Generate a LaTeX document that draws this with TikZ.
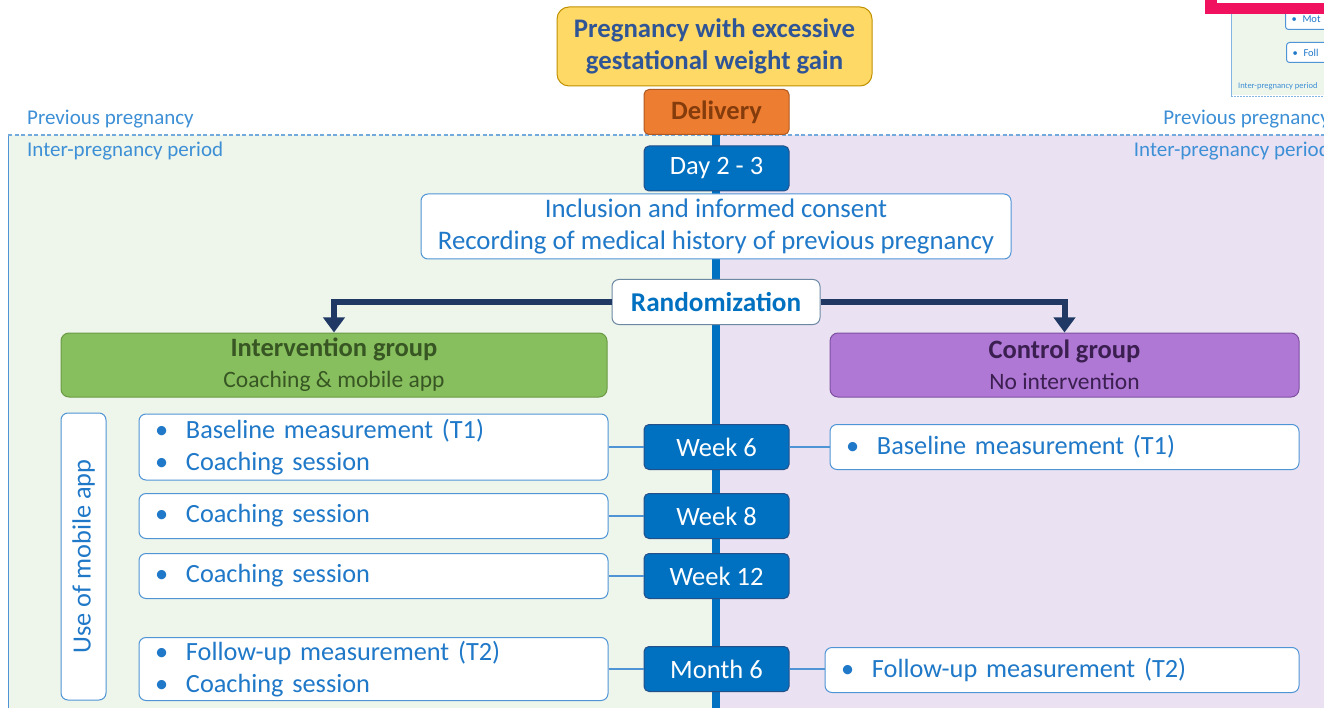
\documentclass[tikz,border=0pt]{standalone}
\usepackage{fontspec}
\setmainfont{Carlito}
\usetikzlibrary{arrows.meta,calc}
\definecolor{tblue}{HTML}{1F78C8}
\definecolor{lblue}{HTML}{3D8FD6}
\definecolor{wkblue}{HTML}{0070C0}
\definecolor{wkborder}{HTML}{24508A}
\definecolor{bborder}{HTML}{4F95D6}
\definecolor{bggreen}{HTML}{EEF5EB}
\definecolor{bgpurple}{HTML}{EAE2F2}
\definecolor{navy}{HTML}{1F3864}
\definecolor{goldfill}{HTML}{FFD966}
\definecolor{goldborder}{HTML}{BF9000}
\definecolor{pregtext}{HTML}{2F5597}
\definecolor{orfill}{HTML}{ED7D31}
\definecolor{orborder}{HTML}{AE5A21}
\definecolor{ortext}{HTML}{843C0C}
\definecolor{grfill}{HTML}{88BF5E}
\definecolor{grborder}{HTML}{6A9A44}
\definecolor{grtext}{HTML}{375623}
\definecolor{pufill}{HTML}{AF78D5}
\definecolor{puborder}{HTML}{7E4FA0}
\definecolor{putext}{HTML}{3B1F50}
\definecolor{pink}{HTML}{F0125E}
\tikzset{
  x=1pt, y=-1pt,
  wk/.style={draw=wkborder, fill=wkblue, rounded corners=5pt, line width=1pt,
    minimum width=145pt, minimum height=45pt, inner sep=0pt, text=white,
    font=\fontsize{26.5}{30}\selectfont},
  wbox/.style={draw=bborder, fill=white, rounded corners=7pt, line width=1pt,
    inner sep=0pt, text=tblue, font=\fontsize{26.3}{32}\selectfont},
  lbox/.style={wbox, minimum width=469pt, text width=439pt, align=left, inner xsep=15pt},
  conn/.style={draw=bborder, line width=1.2pt},
  garrow/.style={draw=navy, line width=6pt, -{Triangle[width=21pt,length=15pt]}},
  period/.style={text=lblue, font=\fontsize{21}{24}\selectfont, inner sep=0pt},
}
\newcommand{\bul}{\makebox[32pt][l]{\hspace{1pt}•}}
\begin{document}
\begin{tikzpicture}
\useasboundingbox (0,0) rectangle (1324,708);
\clip (0,0) rectangle (1324,708);
\fill[white] (0,0) rectangle (1324,708);
% background regions
\fill[bggreen] (8,135) rectangle (716,708);
\fill[bgpurple] (716,135) rectangle (1324,708);
\draw[bborder, line width=1pt] (8,135) -- (8,708);
\draw[bborder!80, line width=1.2pt, dash pattern=on 4pt off 2.5pt] (8,135) -- (1324,135);
% timeline
\draw[wkblue, line width=8pt] (716,130) -- (716,708);
% period labels
\node[period, anchor=west] (pp1) at (27,119) {Previous pregnancy};
\node[period, anchor=west] (ip1) at (27,151) {Inter-pregnancy period};
\node[period, anchor=east] (pp2) at (1330,119) {Previous pregnancy};
\node[period, anchor=east] (ip2) at (1330,151) {Inter-pregnancy period};
% corner artifact
\fill[bggreen] (1231,14) rectangle (1324,95);
\draw[bborder!70, line width=0.8pt] (1231,14) -- (1231,97);
\draw[bborder!70, line width=0.6pt, dash pattern=on 2pt off 1pt] (1231,96) -- (1324,96);
\node[wbox, rounded corners=3pt, minimum width=50pt, minimum height=20pt, anchor=north west,
  font=\fontsize{10.5}{12}\selectfont, text width=44pt, align=left, inner xsep=3pt] (am) at (1285,9) {\makebox[14pt][l]{\hspace{3pt}•}Mot};
\node[wbox, rounded corners=3pt, minimum width=50pt, minimum height=20pt, anchor=north west,
  font=\fontsize{10.5}{12}\selectfont, text width=44pt, align=left, inner xsep=3pt] (af) at (1286,42) {\makebox[14pt][l]{\hspace{3pt}•}Foll};
\node[period, anchor=west, font=\fontsize{8.5}{9}\selectfont] (ai) at (1238,86) {Inter-pregnancy period};
\fill[pink] (1205,0) rectangle (1324,14);
\fill[white] (1217,0) rectangle (1324,3);
% top boxes
\node[draw=goldborder, fill=goldfill, rounded corners=12pt, line width=1pt,
  minimum width=315pt, minimum height=79pt, inner sep=0pt, align=center,
  text=pregtext, font=\bfseries\fontsize{26.8}{32}\selectfont] (preg) at (714.5,46.5)
  {Pregnancy with excessive\\gestational weight gain};
\node[draw=orborder, fill=orfill, rounded corners=5pt, line width=1pt,
  minimum width=145pt, minimum height=45pt, inner sep=0pt,
  text=ortext, font=\bfseries\fontsize{26.5}{30}\selectfont] (deliv) at (716.5,112) {Delivery};
\node[wk] (day) at (716.5,168.5) {Day 2 - 3};
\node[wbox, minimum width=590pt, minimum height=65pt, align=center,
  font=\fontsize{26.8}{32}\selectfont] (incl) at (716,226.5)
  {Inclusion and informed consent\\Recording of medical history of previous pregnancy};
\node[draw=gray!60!bborder, fill=white, rounded corners=7pt, line width=1pt,
  minimum width=208pt, minimum height=45pt, inner sep=0pt, text=wkblue,
  font=\bfseries\fontsize{27.2}{30}\selectfont] (rand) at (716,302) {Randomization};
% groups
\node[draw=grborder, fill=grfill, rounded corners=8pt, line width=1pt,
  minimum width=546pt, minimum height=64pt, inner sep=0pt, align=center,
  text=grtext, font=\fontsize{23.5}{31}\selectfont] (ig) at (334,365)
  {{\bfseries\fontsize{26.5}{31}\selectfont Intervention group}\\Coaching \& mobile app};
\node[draw=puborder, fill=pufill, rounded corners=8pt, line width=1pt,
  minimum width=469pt, minimum height=64pt, inner sep=0pt, align=center,
  text=putext, font=\fontsize{23.5}{31}\selectfont] (cg) at (1064.5,365)
  {{\bfseries\fontsize{26.5}{31}\selectfont Control group}\\No intervention};
\draw[garrow] (rand.west) -| (ig.north);
\draw[garrow] (rand.east) -| (cg.north);
% mobile app
\node[wbox, minimum width=287pt, minimum height=45pt, rotate=90] (app) at (83.5,556.5) {Use of mobile app};
% time points
\node[wk] (w6) at (716.5,447) {Week 6};
\node[wk] (w8) at (716.5,516) {Week 8};
\node[wk] (w12) at (716.5,576) {Week 12};
\node[wk] (m6) at (716.5,669) {Month 6};
% left boxes
\node[lbox, minimum height=66pt] (lb1) at (373.5,447) {\bul Baseline measurement (T1)\\\bul Coaching session};
\node[lbox, minimum height=45pt] (lb2) at (373.5,516) {\bul Coaching session};
\node[lbox, minimum height=45pt] (lb3) at (373.5,576) {\bul Coaching session};
\node[lbox, minimum height=63pt] (lb4) at (373.5,669) {\bul Follow-up measurement (T2)\\\bul Coaching session};
% right boxes
\node[lbox, minimum height=45pt] (rb1) at (1064.5,447) {\bul Baseline measurement (T1)};
\node[lbox, minimum width=474pt, text width=444pt, minimum height=45pt] (rb2) at (1062,670) {\bul Follow-up measurement (T2)};
% connectors
\draw[conn] (lb1) -- (w6);
\draw[conn] (lb2) -- (w8);
\draw[conn] (lb3) -- (w12);
\draw[conn] (lb4) -- (m6);
\draw[conn] (w6) -- (rb1);
\draw[conn] (m6) -- (rb2.west |- m6.east);
\end{tikzpicture}
\end{document}
